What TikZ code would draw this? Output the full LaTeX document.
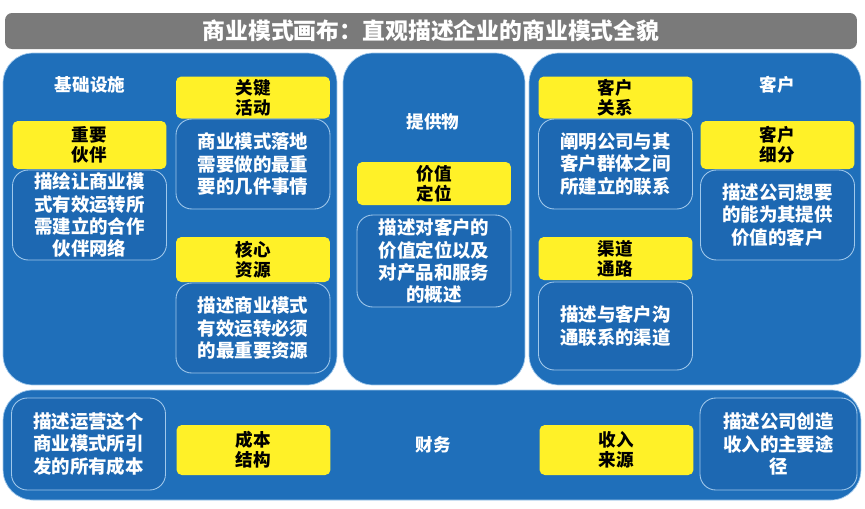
\documentclass[tikz,border=0pt]{standalone}
\usepackage{fontspec}
\usepackage{xcolor}
\usepackage{tikz}
\usetikzlibrary{positioning}
\newfontfamily\cjk{Noto Sans CJK SC}
\definecolor{canvasblue}{RGB}{31,111,186}
\definecolor{boxblue}{RGB}{29,104,178}
\definecolor{edgeblue}{RGB}{160,200,235}
\definecolor{headyellow}{RGB}{255,241,40}
\definecolor{titlegray}{RGB}{122,122,122}
\tikzset{
	panel/.style={draw=edgeblue, line width=0.4pt, fill=canvasblue, rounded corners=17pt, inner sep=0pt},
	head/.style={fill=headyellow, rounded corners=3pt, minimum width=3.08cm, inner sep=0pt, align=center, font=\cjk\bfseries\fontsize{10}{11.5}\selectfont, text=black},
	desc/.style={draw=edgeblue, line width=0.5pt, fill=boxblue, rounded corners=9pt, minimum width=3.08cm, minimum height=1.8cm, inner sep=0pt, align=center, font=\cjk\bfseries\fontsize{10.5}{12.6}\selectfont, text=white},
	area/.style={font=\cjk\bfseries\fontsize{10}{12}\selectfont, text=white}
}
\begin{document}
\begin{tikzpicture}[x=0.02cm, y=-0.02cm]
			\useasboundingbox[fill=white] (0,0) rectangle (865,508);
			
			% title bar
			\node[fill=titlegray, rounded corners=4pt, minimum width=17.04cm, minimum height=0.72cm, inner sep=0pt,
				font=\cjk\bfseries\fontsize{13}{15}\selectfont, text=white] (title) at (431,31) {商业模式画布：直观描述企业的商业模式全貌};
			
			% the four panels
			\node[panel, minimum width=6.68cm, minimum height=6.64cm] (infra) at (170,219) {};
			\node[panel, minimum width=3.64cm, minimum height=6.64cm] (offer) at (434,219) {};
			\node[panel, minimum width=6.64cm, minimum height=6.64cm] (cust) at (695,219) {};
			\node[panel, minimum width=17.16cm, minimum height=2.2cm] (fin) at (432,445) {};
			
			\node[area] (infra-label) at (90,85) {基础设施};
			\node[area] (offer-label) at (433,122) {提供物};
			\node[area] (cust-label) at (777,85) {客户};
			\node[area] (fin-label) at (433,445) {财务};
			
			% infrastructure
			\node[head, minimum height=0.84cm] (key-act) at (253,97.5) {关键\\活动};
			\node[desc] (key-act-d) at (253,164) {商业模式落地\\需要做的最重\\要的几件事情};
			\node[head, minimum height=0.96cm] (key-part) at (89.5,145) {重要\\伙伴};
			\node[desc] (key-part-d) at (89.5,215) {描绘让商业模\\式有效运转所\\需建立的合作\\伙伴网络};
			\node[head, minimum height=0.9cm] (key-res) at (253,259.5) {核心\\资源};
			\node[desc] (key-res-d) at (253,328) {描述商业模式\\有效运转必须\\的最重要资源};
			
			% offer
			\node[head, minimum height=0.86cm] (value) at (434,183.5) {价值\\定位};
			\node[desc, minimum height=1.84cm] (value-d) at (434,261) {描述对客户的\\价值定位以及\\对产品和服务\\的概述};
			
			% customers
			\node[head, minimum height=0.84cm] (relation) at (615.5,97.5) {客户\\关系};
			\node[desc] (relation-d) at (615.5,164) {阐明公司与其\\客户群体之间\\所建立的联系};
			\node[head, minimum height=0.96cm] (segment) at (777.5,145) {客户\\细分};
			\node[desc] (segment-d) at (777.5,215) {描述公司想要\\的能为其提供\\价值的客户};
			\node[head, minimum height=0.86cm] (channel) at (615.5,258.5) {渠道\\通路};
			\node[desc, minimum height=1.76cm] (channel-d) at (615.5,326) {描述与客户沟\\通联系的渠道};
			
			% finance
			\node[desc, minimum height=1.84cm] (cost-d) at (88.5,444) {描述运营这个\\商业模式所引\\发的所有成本};
			\node[head, minimum height=1.0cm] (cost) at (253.5,450) {成本\\结构};
			\node[head, minimum height=1.0cm] (revenue) at (616.5,450) {收入\\来源};
			\node[desc, minimum height=1.84cm, minimum width=3.14cm] (revenue-d) at (778.5,444) {描述公司创造\\收入的主要途\\径};
		
		\end{tikzpicture}
\end{document}
